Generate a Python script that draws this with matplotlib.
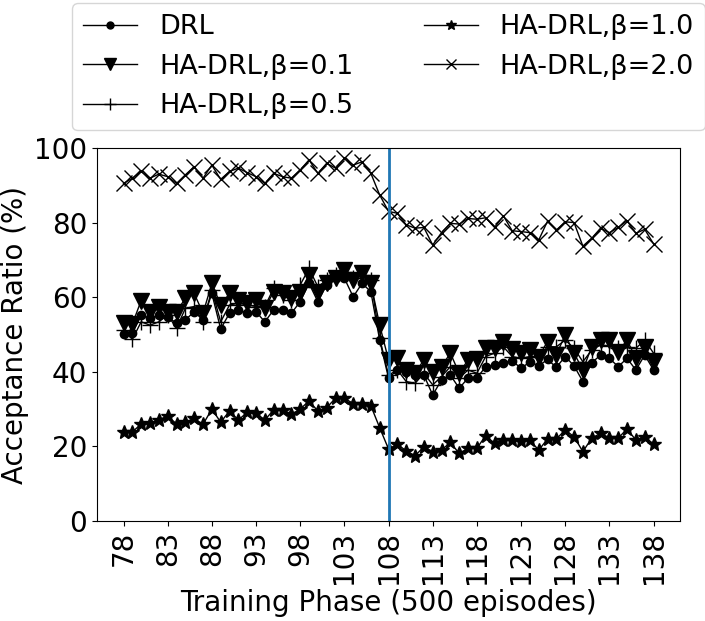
import numpy as np
import matplotlib
matplotlib.use("Agg")
import matplotlib.pyplot as plt

# Training phases (x axis)
phases = list(range(78, 139))

drl = [50.1, 50.3, 55.2, 54.3, 55.2, 54.8, 53.0, 53.9, 56.1, 53.9,
       61.0, 51.5, 55.7, 56.6, 55.7, 56.1, 53.4, 56.6, 56.6, 55.7,
       58.8, 63.7, 58.8, 63.3, 65.1, 65.1, 60.1, 63.7, 61.5, 48.5,
       38.3, 40.5, 40.0, 39.1, 39.1, 33.8, 37.8, 39.1, 35.6, 38.3,
       38.3, 41.4, 41.8, 42.4, 43.0, 40.9, 42.7, 41.6, 43.3, 41.2,
       44.1, 41.6, 37.4, 42.4, 44.5, 43.6, 41.4, 43.6, 40.5, 44.5,
       40.5]

ha_01 = [53.2, 52.8, 59.1, 56.1, 57.5, 56.1, 56.1, 59.7, 61.0, 55.7,
         63.7, 57.9, 61.0, 59.2, 58.4, 59.2, 57.0, 61.5, 61.0, 59.7,
         61.5, 65.9, 61.5, 63.7, 65.1, 67.3, 64.6, 66.4, 63.7, 52.5,
         43.2, 43.6, 40.5, 39.6, 43.2, 40.0, 41.4, 45.0, 39.6, 43.2,
         43.3, 46.3, 46.3, 48.1, 46.1, 45.0, 45.8, 44.1, 48.1, 44.6,
         49.9, 45.0, 40.5, 46.7, 48.5, 48.5, 45.4, 48.5, 43.6, 46.7,
         42.7]

ha_05 = [51.2, 48.7, 53.4, 52.5, 53.4, 55.2, 51.7, 57.0, 57.5, 53.4,
         61.9, 53.4, 57.9, 58.4, 57.9, 57.5, 57.5, 62.4, 60.6, 59.2,
         63.3, 67.7, 62.8, 64.6, 65.9, 66.8, 65.1, 65.9, 64.6, 49.0,
         39.1, 40.5, 37.4, 36.9, 39.6, 36.5, 38.7, 41.4, 38.3, 40.5,
         39.6, 44.1, 45.0, 46.7, 44.1, 43.6, 44.1, 44.1, 46.7, 46.7,
         48.5, 46.3, 42.7, 45.8, 47.2, 46.9, 46.3, 46.7, 46.3, 48.5,
         45.0]

ha_10 = [23.8, 23.9, 26.0, 26.2, 27.1, 28.2, 26.0, 26.5, 27.5, 25.9,
         30.0, 26.5, 29.5, 27.1, 29.1, 28.9, 27.1, 29.8, 29.8, 28.6,
         30.0, 32.2, 29.5, 30.4, 32.9, 32.9, 31.5, 31.3, 30.9, 25.0,
         19.3, 20.6, 18.8, 17.5, 19.9, 18.6, 19.0, 21.1, 18.1, 19.5,
         19.5, 22.9, 20.8, 21.7, 21.7, 21.4, 21.7, 19.0, 22.0, 22.0,
         24.4, 22.6, 18.6, 22.2, 23.5, 22.3, 22.2, 24.7, 21.7, 22.6,
         20.6]

ha_20 = [90.5, 91.9, 93.7, 91.9, 93.0, 92.3, 90.5, 92.8, 95.0, 91.9,
         95.4, 91.6, 93.7, 94.6, 93.4, 92.3, 90.5, 93.2, 92.3, 91.9,
         94.1, 96.8, 93.2, 95.9, 94.6, 97.2, 95.4, 96.3, 93.2, 87.4,
         83.0, 82.5, 79.4, 78.5, 78.7, 74.0, 77.3, 79.8, 79.6, 81.1,
         80.9, 81.3, 78.7, 81.8, 77.8, 77.6, 77.3, 75.3, 80.4, 78.0,
         80.2, 80.0, 73.7, 75.8, 78.5, 77.3, 78.7, 80.5, 77.1, 78.2,
         74.3]

labels = ["DRL", "HA-DRL,β=0.1", "HA-DRL,β=0.5", "HA-DRL,β=1.0", "HA-DRL,β=2.0"]
switch_phase = 108

plt.rcParams['font.size'] = 20

fig = plt.figure(figsize=(7.05, 6.21), dpi=100)
ax = fig.add_axes([0.1376, 0.161, 0.827, 0.6007])

ax.plot(phases, drl, color='black', marker='o', markersize=6, linewidth=1, label=labels[0])
ax.plot(phases, ha_01, color='black', marker='v', markersize=11, linewidth=1, label=labels[1])
ax.plot(phases, ha_05, color='black', marker='+', markersize=11, linewidth=1, label=labels[2])
ax.plot(phases, ha_10, color='black', marker='*', markersize=10, linewidth=1, label=labels[3])
ax.plot(phases, ha_20, color='black', marker='x', markersize=12, linewidth=1, label=labels[4])

ax.axvline(switch_phase, color='C0', linewidth=2)

ax.set_ylim(0, 100)
ax.set_xticks(phases[::5])
ax.tick_params(axis='x', rotation=90)
ax.set_xlabel("Training Phase (500 episodes)")
ax.set_ylabel("Acceptance Ratio (%)")

leg = ax.legend(ncol=2, loc='lower center', bbox_to_anchor=(0.5, 1.012),
                columnspacing=2.6, fontsize=19.5)
# legend markers are drawn smaller than in the plot
for h, ms in zip(leg.legend_handles, [5, 9, 8, 7, 7]):
    h.set_markersize(ms)

fig.savefig("out.png", dpi=100)
